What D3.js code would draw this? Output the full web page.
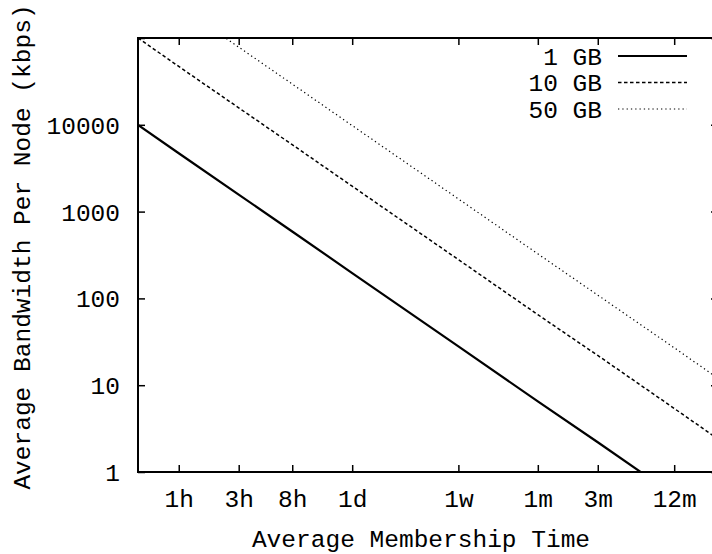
<!DOCTYPE html>
<html>
<head>
<meta charset="utf-8">
<script src="https://cdn.jsdelivr.net/npm/d3@7"></script>
<style>
  html, body { margin: 0; padding: 0; background: #fff; }
  svg { display: block; overflow: hidden; }
  text { font-family: "Liberation Mono", "Courier New", monospace; fill: #000; }
</style>
</head>
<body>
<svg id="chart" width="712" height="554"></svg>
<script>
// Membership time in hours (plot edges plus the labelled ticks)
const timesHours = [0.474, 1, 3, 8, 24, 168, 720, 2160, 8760, 19550];

// Tick positions (hours) and their labels on the time axis
const xTickHours  = [1, 3, 8, 24, 168, 720, 2160, 8760];
const xTickLabels = ["1h", "3h", "8h", "1d", "1w", "1m", "3m", "12m"];

// Bandwidth tick values and labels
const yTickValues = [1, 10, 100, 1000, 10000, 100000];
const yTickLabels = ["1", "10", "100", "1000", "10000", ""];

// Average bandwidth per node (kbps) for each data size
const bw1GB  = [10000, 4700, 1570, 590, 196, 28, 6.5, 2.2, 0.54, 0.24];
const bw10GB = [100000, 47000, 15700, 5900, 1960, 280, 65, 22, 5.4, 2.4];
const bw50GB = [500000, 235000, 78500, 29500, 9800, 1400, 326, 109, 27, 12];

const seriesNames = ["1 GB", "10 GB", "50 GB"];
const seriesData  = [bw1GB, bw10GB, bw50GB];

(function draw() {
  const svg = d3.select("#chart");
  const mLeft = 138, mRight = 718, mTop = 38, mBottom = 472;
  const fontSize = 24.5;
  const tickLen = 7;
  const font = "'Liberation Mono', 'Courier New', monospace";

  const x = d3.scaleLog().domain([0.474, 19550]).range([mLeft, mRight]);
  const y = d3.scaleLog().domain([1, 100000]).range([mBottom, mTop]);

  const styles = [
    { width: 2.2, dash: null },
    { width: 1.5, dash: "3.5,2.5" },
    { width: 1.2, dash: "1.3,3" }
  ];

  // clipping region for the curves
  svg.append("defs").append("clipPath").attr("id", "plotClip")
    .append("rect").attr("x", mLeft).attr("y", mTop)
    .attr("width", mRight - mLeft).attr("height", mBottom - mTop);

  // curves
  const line = d3.line().x(d => x(d[0])).y(d => y(d[1]));
  const curves = svg.append("g").attr("clip-path", "url(#plotClip)");
  seriesData.forEach((vals, i) => {
    curves.append("path")
      .datum(timesHours.map((t, j) => [t, vals[j]]))
      .attr("d", line)
      .attr("fill", "none")
      .attr("stroke", "#000")
      .attr("stroke-width", styles[i].width)
      .attr("stroke-dasharray", styles[i].dash);
  });

  // axes: ticks point inward and are mirrored on the opposite side
  const xBottom = svg.append("g").attr("transform", `translate(0,${mBottom})`)
    .call(d3.axisBottom(x).tickValues(xTickHours).tickSize(-tickLen)
      .tickFormat((d, i) => xTickLabels[i]));
  const xTop = svg.append("g").attr("transform", `translate(0,${mTop})`)
    .call(d3.axisTop(x).tickValues(xTickHours).tickSize(-tickLen).tickFormat(""));
  const yLeft = svg.append("g").attr("transform", `translate(${mLeft},0)`)
    .call(d3.axisLeft(y).tickValues(yTickValues).tickSize(-tickLen)
      .tickFormat((d, i) => yTickLabels[i]));
  const yRight = svg.append("g").attr("transform", `translate(${mRight},0)`)
    .call(d3.axisRight(y).tickValues(yTickValues).tickSize(-tickLen).tickFormat(""));

  [xBottom, xTop, yLeft, yRight].forEach(g => {
    g.select(".domain").remove();
    g.selectAll(".tick line").attr("stroke", "#000").attr("stroke-width", 1.5);
    g.selectAll(".tick text")
      .style("font-size", fontSize + "px")
      .style("font-family", font)
      .attr("fill", "#000");
  });
  xBottom.selectAll(".tick text").attr("y", 35).attr("dy", null);
  yLeft.selectAll(".tick text").attr("x", -18).attr("dy", "0.35em");

  // frame
  svg.append("rect")
    .attr("x", mLeft).attr("y", mTop)
    .attr("width", mRight - mLeft).attr("height", mBottom - mTop)
    .attr("fill", "none").attr("stroke", "#000").attr("stroke-width", 2);

  // axis titles
  svg.append("text")
    .attr("x", 421).attr("y", 547)
    .attr("text-anchor", "middle")
    .style("font-size", fontSize + "px")
    .text("Average Membership Time");

  svg.append("text")
    .attr("transform", "translate(30,247) rotate(-90)")
    .attr("text-anchor", "middle")
    .style("font-size", fontSize + "px")
    .text("Average Bandwidth Per Node (kbps)");

  // legend
  const legend = svg.append("g");
  seriesNames.forEach((name, i) => {
    const ly = 56 + i * 26.5;
    legend.append("text")
      .attr("x", 602).attr("y", ly).attr("dy", "0.35em")
      .attr("text-anchor", "end")
      .style("font-size", fontSize + "px")
      .text(name);
    legend.append("line")
      .attr("x1", 618).attr("x2", 687)
      .attr("y1", ly).attr("y2", ly)
      .attr("stroke", "#000")
      .attr("stroke-width", styles[i].width)
      .attr("stroke-dasharray", styles[i].dash);
  });
})();
</script>
</body>
</html>
